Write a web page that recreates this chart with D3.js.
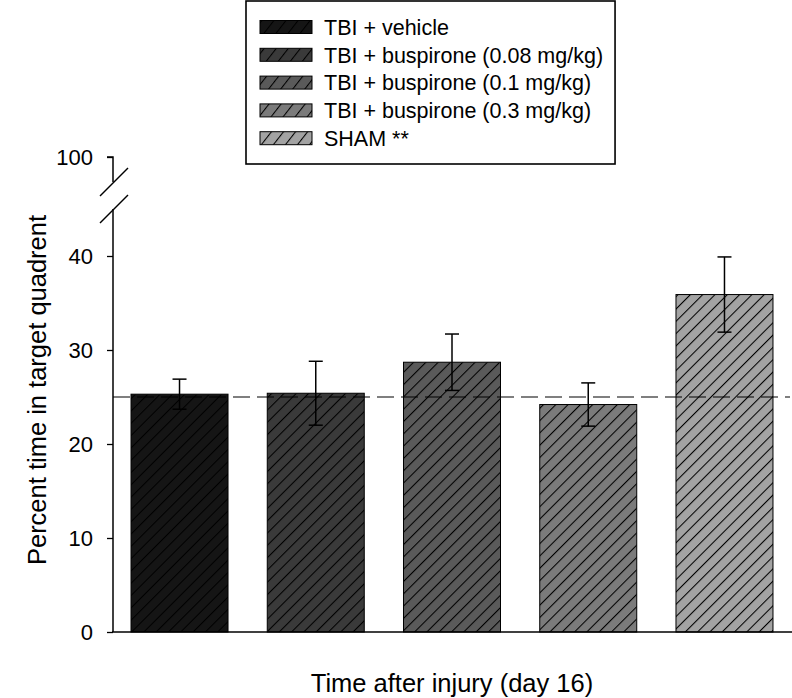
<!DOCTYPE html>
<html><head><meta charset="utf-8">
<script src="https://cdn.jsdelivr.net/npm/d3@7"></script>
<style>body{margin:0;background:#fff}svg{display:block;font-family:Arial,"Liberation Sans",sans-serif}</style>
</head><body><svg id="c" width="792" height="698"></svg>
<script>
const groups = ["TBI + vehicle","TBI + buspirone (0.08 mg/kg)","TBI + buspirone (0.1 mg/kg)","TBI + buspirone (0.3 mg/kg)","SHAM **"];
const means = [25.3, 25.4, 28.7, 24.2, 35.9];
const errs = [1.6, 3.4, 3.0, 2.3, 4.0];
const fills = ["#151515","#3a3a3a","#5a5a5a","#7b7b7b","#a3a3a3"];
const lowTicks = [0,10,20,30,40];
const highTicks = [100];
const chanceLevel = 25;

const svg = d3.select("#c");
const x = d3.scaleBand().domain(groups).range([111.4, 792.6]).paddingInner(0.288).paddingOuter(0.144);
const y = d3.scaleLinear().domain([0,40]).range([632,256]);
const yHigh = d3.scaleLinear().domain([97.4,100]).range([182,157]);
const axisX = 113;

const defs = svg.append("defs");
function pattern(id, f, w, ang){
  const p = defs.append("pattern").attr("id",id).attr("patternUnits","userSpaceOnUse")
    .attr("width",w).attr("height",20).attr("patternTransform",`rotate(${ang})`);
  p.append("rect").attr("width",w).attr("height",20).attr("fill",f);
  p.append("line").attr("x1",0.5).attr("y1",0).attr("x2",0.5).attr("y2",20).attr("stroke","#000").attr("stroke-width",1.1);
}
fills.forEach((f,i)=>{ pattern("h"+i,f,8.7,45); pattern("l"+i,f,9.5,38); });

// bars
svg.append("g").selectAll("rect").data(groups).join("rect")
  .attr("x",d=>x(d)).attr("width",x.bandwidth())
  .attr("y",(d,i)=>y(means[i])).attr("height",(d,i)=>y(0)-y(means[i]))
  .attr("fill",(d,i)=>`url(#h${i})`).attr("stroke","#000").attr("stroke-width",1);

// dashed reference line
svg.append("line").attr("x1",axisX).attr("x2",790).attr("y1",y(chanceLevel)).attr("y2",y(chanceLevel))
  .attr("stroke","#000").attr("stroke-width",1.2).attr("stroke-dasharray","17,7");

// error bars
const eb = svg.append("g").attr("stroke","#000").attr("stroke-width",1.5);
groups.forEach((g,i)=>{
  const cx = x(g)+x.bandwidth()/2;
  eb.append("line").attr("x1",cx).attr("x2",cx).attr("y1",y(means[i]+errs[i])).attr("y2",y(means[i]-errs[i]));
  [means[i]+errs[i], means[i]-errs[i]].forEach(v=>{
    eb.append("line").attr("x1",cx-7).attr("x2",cx+7).attr("y1",y(v)).attr("y2",y(v));
  });
});

// x axis baseline
svg.append("line").attr("x1",axisX-1).attr("x2",792).attr("y1",y(0)).attr("y2",y(0)).attr("stroke","#000").attr("stroke-width",1.5);

// y axis lower
const ax = svg.append("g").attr("transform",`translate(${axisX},0)`)
  .call(d3.axisLeft(y).tickValues(lowTicks).tickSize(6).tickSizeOuter(0).tickPadding(14));
ax.select(".domain").attr("d",`M0,${y(0)}V209`).attr("stroke-width",1.5);
const axh = svg.append("g").attr("transform",`translate(${axisX},0)`)
  .call(d3.axisLeft(yHigh).tickValues(highTicks).tickFormat(d3.format("d")).tickSize(6).tickSizeOuter(0).tickPadding(14));
axh.select(".domain").attr("d",`M-6,${yHigh(100)}H0V${yHigh(97.4)}`).attr("stroke-width",1.5);
svg.selectAll(".tick text").attr("font-size",22).attr("font-family","Arial,'Liberation Sans',sans-serif").attr("fill","#000");
svg.selectAll(".tick line").attr("stroke-width",1.3);
// break marks
[[100,196,128,168],[100,223,128,195]].forEach(s=>{
  svg.append("line").attr("x1",s[0]).attr("y1",s[1]).attr("x2",s[2]).attr("y2",s[3]).attr("stroke","#000").attr("stroke-width",1.4);
});

// titles
svg.append("text").attr("transform","translate(46,390) rotate(-90)").attr("text-anchor","middle")
  .attr("font-size",25.5).text("Percent time in target quadrent");
svg.append("text").attr("x",452).attr("y",692).attr("text-anchor","middle").attr("font-size",25.5).text("Time after injury (day 16)");

// legend
const lg = svg.append("g");
const box = lg.append("rect").attr("x",246).attr("y",1).attr("height",163).attr("fill","#fff").attr("stroke","#000").attr("stroke-width",1.6);
let maxW = 0;
groups.forEach((g,i)=>{
  const cy = 27 + i*27.8;
  lg.append("rect").attr("x",260).attr("y",cy-6.5).attr("width",52).attr("height",13)
    .attr("fill",`url(#l${i})`).attr("stroke","#000").attr("stroke-width",1);
  const t = lg.append("text").attr("x",324).attr("y",cy+7.8).attr("font-size",21.5).text(g);
  maxW = Math.max(maxW, t.node().getComputedTextLength());
});
box.attr("width",324 + maxW + 12 - 246);
</script></body></html>
